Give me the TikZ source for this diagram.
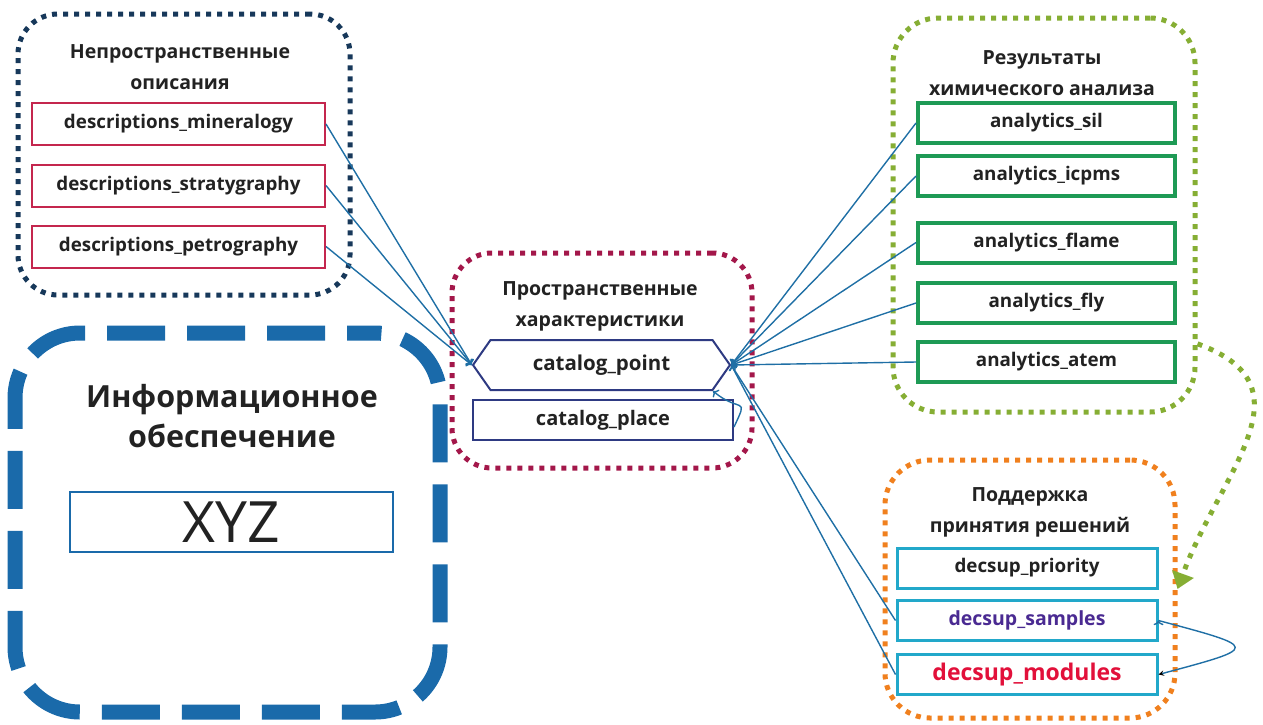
\documentclass[tikz,border=0pt]{standalone}
\usepackage{fontspec}
\setmainfont{Open Sans}
\usetikzlibrary{arrows,arrows.meta,positioning,shapes.symbols}

\definecolor{navydot}{HTML}{17385A}
\definecolor{crimdot}{HTML}{A3174A}
\definecolor{limedot}{HTML}{86AE34}
\definecolor{orgdot}{HTML}{F0801E}
\definecolor{infoblue}{HTML}{1A6AAA}
\definecolor{descred}{HTML}{C4264E}
\definecolor{catnavy}{HTML}{2E3A82}
\definecolor{anagreen}{HTML}{1E9A55}
\definecolor{deccyan}{HTML}{22A8CA}
\definecolor{linkblue}{HTML}{1F6FA5}
\definecolor{txtgray}{HTML}{222222}
\definecolor{sampurple}{HTML}{4A2A92}
\definecolor{modred}{HTML}{E2103A}

\tikzset{
  grp/.style={draw, rounded corners=40pt, line width=5pt, dash pattern=on 5pt off 6pt, inner sep=0pt},
  ttl/.style={font=\bfseries\fontsize{19.5}{31}\selectfont, align=center, text=txtgray},
  tbl/.style={draw, fill=white, line width=2pt, inner sep=0pt, minimum height=40pt,
              font=\bfseries\fontsize{18.8}{20}\selectfont, text=txtgray},
  link/.style={draw=linkblue, line width=1.4pt}
}

\begin{document}
\begin{tikzpicture}[x=1pt,y=-1pt]
  \useasboundingbox (0,0) rectangle (1263,724);

  % groups
  \node[grp, draw=navydot, minimum width=332pt, minimum height=281pt] (nonspat) at (184,154.5) {};
  \node[grp, draw=crimdot, minimum width=300pt, minimum height=215pt] (spat) at (602,360.5) {};
  \node[grp, draw=limedot, minimum width=302pt, minimum height=394pt, rounded corners=45pt] (chem) at (1044,215) {};
  \node[grp, draw=orgdot, minimum width=290pt, minimum height=258pt, rounded corners=45pt] (decis) at (1030,589) {};
  \node[draw=infoblue, line width=15pt, dash pattern=on 58pt off 22pt, dash phase=30pt,
        rounded corners=65pt, minimum width=425pt, minimum height=379pt] (info) at (227.5,522.5) {};

  % titles
  \node[ttl] (nonspat_t) at (180,67) {Непространственные\\описания};
  \node[ttl] (spat_t) at (600,306) {Пространственные\\характеристики};
  \node[ttl] (chem_t) at (1042,73) {Результаты\\химического анализа};
  \node[ttl] (decis_t) at (1030,512) {Поддержка\\принятия решений};
  \node[ttl, font=\bfseries\fontsize{30.5}{40}\selectfont] (info_t) at (232,416) {Информационное\\обеспечение};

  % tables
  \node[tbl, draw=descred, minimum width=293pt, minimum height=42pt] (d_min) at (178.5,124) {descriptions\_mineralogy};
  \node[tbl, draw=descred, minimum width=293pt, minimum height=42pt] (d_str) at (178.5,185.5) {descriptions\_stratygraphy};
  \node[tbl, draw=descred, minimum width=293pt, minimum height=42pt] (d_pet) at (178.5,246.5) {descriptions\_petrography};

  \node[tbl, draw=infoblue, minimum width=323pt, minimum height=60pt,
        font=\fontsize{57}{60}\selectfont] (xyz) at (231.5,522) {XYZ};

  \node[tbl, draw=catnavy, shape=signal, signal to=east and west, signal from=nowhere,
        signal pointer angle=110, minimum width=257pt, minimum height=50pt,
        font=\bfseries\fontsize{20.5}{22}\selectfont] (c_point) at (601.5,365) {catalog\_point};
  \node[tbl, draw=catnavy, minimum width=260pt, font=\bfseries\fontsize{20}{22}\selectfont] (c_place) at (603,420) {catalog\_place};

  \node[tbl, draw=anagreen, line width=4pt, minimum width=257pt] (a_sil) at (1046.5,123) {analytics\_sil};
  \node[tbl, draw=anagreen, line width=4pt, minimum width=257pt] (a_icp) at (1046.5,176) {analytics\_icpms};
  \node[tbl, draw=anagreen, line width=4pt, minimum width=257pt] (a_fla) at (1046.5,242.5) {analytics\_flame};
  \node[tbl, draw=anagreen, line width=4pt, minimum width=257pt] (a_fly) at (1046.5,303) {analytics\_fly};
  \node[tbl, draw=anagreen, line width=4pt, minimum width=257pt] (a_ate) at (1046.5,362) {analytics\_atem};

  \node[tbl, draw=deccyan, line width=3pt, minimum width=260pt] (s_pri) at (1027,568) {decsup\_priority};
  \node[tbl, draw=deccyan, line width=3pt, minimum width=260pt, text=sampurple,
        font=\bfseries\fontsize{19.5}{22}\selectfont] (s_sam) at (1027,620.5) {decsup\_samples};
  \node[tbl, draw=deccyan, line width=3pt, minimum width=260pt, text=modred,
        font=\bfseries\fontsize{23}{25}\selectfont] (s_mod) at (1027,674.5) {decsup\_modules};

  % links
  \path[link, ->]
    (d_min.east) edge (c_point.west)
    (d_str.east) edge (c_point.west)
    (d_pet.east) edge (c_point.west)
    (a_sil.west) edge (c_point.east)
    (a_icp.west) edge (c_point.east)
    (a_fla.west) edge (c_point.east)
    (a_fly.west) edge (c_point.east)
    (a_ate.west) edge (c_point.east)
    (s_sam.west) edge (c_point.east)
    (s_mod.west) edge (c_point.east)
    ([yshift=-7pt]c_place.east) edge [out=65, in=-40, looseness=2.2] (c_point.south east)
    (s_sam.east) edge [-stealth, out=-15, in=15, looseness=5] (s_mod.east);

  \draw[limedot, line width=5pt, dash pattern=on 5pt off 7pt, -{Triangle[width=22pt,length=16pt]}]
    (chem.-40) to[out=-20, in=70, looseness=1.3] (decis.east);
\end{tikzpicture}
\end{document}
